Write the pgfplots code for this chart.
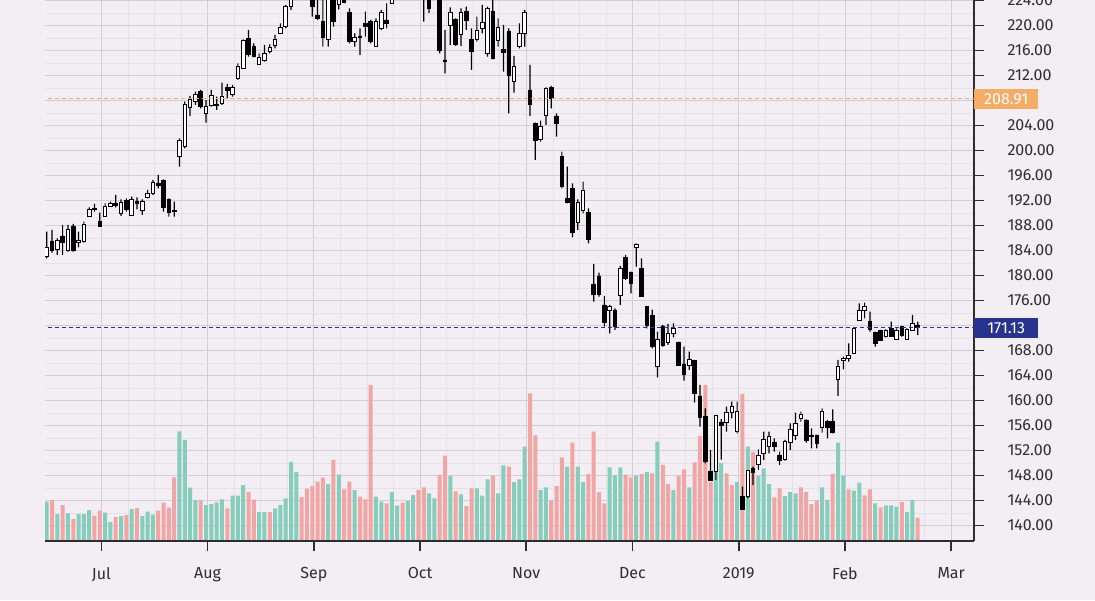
\documentclass[border=0pt]{standalone}
\usepackage{fontspec}
\setmainfont{Fira Sans}
\usepackage{pgfplots}
\usepackage{pgfplotstable}
\pgfplotsset{compat=1.18}

\definecolor{bg}{HTML}{F2EEF3}
\definecolor{gridmaj}{HTML}{D2CED8}
\definecolor{gridmin}{HTML}{E5E1E9}
\definecolor{volup}{HTML}{86CDBB}
\definecolor{voldn}{HTML}{F2A5A5}
\definecolor{tagorange}{HTML}{F5AC66}
\definecolor{tagnavy}{HTML}{27338F}
\definecolor{axcol}{HTML}{2E2E2E}

\pgfplotstableread{
i o h l c v u
0 183.09 186.98 182.72 184.48 39.3 1
1 185.38 187.25 183.62 184.05 41 0
2 184.16 185.92 183.25 185.65 27 1
3 186.29 188.05 183.25 185.22 36 0
4 184.05 188.05 183.78 187.36 27.7 1
5 187.89 188.21 183.78 183.94 22 0
6 185.22 186.98 184.48 185.54 27 1
7 185.38 188.58 185.22 188.21 27 1
8 189.49 190.88 189.38 190.56 31 1
9 190.72 191.41 190.18 190.56 25.3 0
10 188.58 190.02 187.78 187.89 30.3 0
11 189.49 191.52 189.38 191.09 28.3 1
12 191.09 191.78 190.98 191.52 19 1
13 191.52 192.85 190.88 191.20 24 0
14 189.92 192.16 189.49 191.62 25 1
15 191.94 192.32 190.18 190.56 26 0
16 189.65 192.58 189.49 192.16 32 1
17 191.78 192.48 190.56 191.52 33 0
18 190.45 192.16 189.65 191.78 25 1
19 192.48 193.65 192.32 193.12 29.3 1
20 193.12 195.25 192.85 194.82 26.3 1
21 194.72 196.05 193.92 194.45 30.3 0
22 195.14 195.36 190.18 190.88 38.3 0
23 192.16 192.32 189.38 190.02 33.3 0
24 190.34 191.78 189.38 190.24 63.7 0
25 198.98 201.90 197.38 201.65 109.7 1
26 200.58 207.79 200.32 207.41 101 1
27 206.88 208.69 205.49 208.16 53.3 1
28 207.79 209.38 207.25 209.01 41 1
29 209.38 209.65 206.72 206.98 40.3 0
30 205.92 208.05 204.42 207.09 36 1
31 207.25 209.65 206.98 208.85 37 1
32 207.14 208.59 206.45 207.36 38.7 1
33 207.52 210.82 207.25 208.69 41.7 1
34 210.08 210.61 208.32 209.65 32.7 0
35 208.91 210.45 208.59 210.08 45.3 1
36 211.52 213.92 211.25 213.38 45.3 1
37 213.12 217.76 213.01 217.65 56 1
38 217.92 219.25 214.98 215.41 49 0
39 216.58 217.12 214.88 215.09 41.3 0
40 213.76 215.52 213.65 214.88 29 1
41 214.34 216.85 214.18 215.52 29 1
42 215.78 216.96 215.52 216.48 29 0
43 216.85 218.45 216.32 217.81 32.7 1
44 218.72 220.32 218.61 219.68 36 1
45 219.78 223.25 219.52 222.98 42.7 1
46 223.09 226.00 222.45 224.80 79 1
47 225.00 228.00 224.50 227.50 69 1
48 227.50 228.50 225.50 226.00 44 0
49 226.50 227.50 224.60 225.20 52.3 0
50 225.00 226.00 221.38 222.98 55 0
51 221.65 224.50 220.85 221.12 59.3 0
52 220.58 224.30 216.58 218.08 63.3 0
53 217.76 226.00 216.58 225.00 57 1
54 225.50 226.00 219.78 220.58 81 0
55 223.41 226.00 222.56 224.80 66.3 1
56 225.00 226.00 223.50 223.62 51.7 0
57 222.02 222.72 217.12 217.38 59.3 0
58 217.38 218.72 216.58 218.08 51 1
59 218.29 219.52 215.25 218.08 44.3 0
60 220.32 222.18 218.18 219.89 41.7 0
61 220.58 220.85 217.12 217.38 156 0
62 216.69 221.12 216.58 220.58 44.3 1
63 219.52 222.45 219.25 222.02 39.3 1
64 220.85 223.52 219.52 220.32 37.7 0
65 223.52 226.00 223.41 225.00 49 1
66 225.50 228.00 225.00 227.00 35.3 1
67 227.00 228.00 225.00 225.50 38.3 0
68 225.50 227.50 225.00 226.50 40 1
69 226.50 229.00 226.00 228.50 46 1
70 228.50 229.00 225.00 225.50 51 0
71 226.00 226.50 220.60 224.60 53.7 0
72 225.50 226.00 222.00 222.72 47.7 1
73 224.50 226.50 224.20 226.00 42.7 1
74 226.50 227.00 215.50 216.05 66 0
75 214.45 219.25 212.32 214.29 85.3 0
76 220.05 222.88 216.85 222.02 65 1
77 220.96 221.12 216.69 217.01 49.7 0
78 218.61 222.72 216.69 222.02 46.7 1
79 222.18 222.98 219.25 220.85 35 0
80 217.76 219.52 212.85 215.78 52.7 0
81 217.76 221.38 217.38 219.14 52.7 1
82 219.52 223.25 218.72 220.42 45.3 1
83 215.52 222.98 214.98 222.72 61.7 1
84 222.18 224.05 214.56 214.72 65 0
85 217.54 221.12 216.58 219.68 47.7 1
86 216.16 220.05 212.58 215.62 75.7 1
87 218.98 219.52 205.92 212.05 74.3 0
88 210.98 215.09 209.22 213.38 59 1
89 216.58 220.32 216.32 218.72 61.7 1
90 218.72 222.45 216.58 222.02 94.3 1
91 209.65 213.65 205.49 207.41 147.7 0
92 204.32 204.42 198.45 201.55 105.7 0
93 201.76 204.74 201.38 203.78 51 1
94 205.65 210.08 204.05 209.92 53.7 1
95 210.08 210.29 206.72 208.32 40.3 0
96 205.49 205.92 202.18 204.32 55 0
97 198.98 199.78 193.92 194.18 83.7 0
98 192.32 197.38 191.52 191.62 74.3 1
99 193.92 194.72 186.08 186.82 98.3 0
100 188.42 192.16 187.25 191.62 74.3 1
101 190.45 194.98 189.92 193.65 59 1
102 190.02 190.72 185.12 185.76 67 0
103 178.61 181.81 175.78 177.01 109.3 0
104 179.89 180.42 176.58 177.01 49 0
105 175.25 176.69 171.78 172.42 37.7 0
106 174.45 175.25 170.72 174.98 73.7 1
107 174.45 174.72 171.25 171.78 65.7 1
108 176.85 181.49 175.25 181.12 73.7 1
109 182.88 183.25 179.25 179.52 66.3 0
110 180.42 180.58 177.12 178.72 63.7 0
111 184.48 185.12 181.38 185.01 65.7 1
112 181.12 182.72 176.58 176.69 67 0
113 174.98 174.98 171.52 172.05 69 1
114 173.50 174.50 168.30 168.60 67.7 0
115 165.38 170.98 163.68 169.76 99.3 1
116 171.89 172.05 168.58 168.85 76 0
117 169.22 172.21 168.85 170.72 57 0
118 170.72 172.32 170.08 171.52 51 1
119 169.22 169.38 165.49 165.65 65 0
120 165.81 168.58 163.14 164.21 71.7 0
121 165.65 167.78 164.85 166.56 53.7 1
122 166.34 166.45 159.62 161.12 78.7 0
123 160.69 162.45 155.78 157.28 105 0
124 157.38 158.70 149.92 150.18 156 0
125 148.58 152.05 147.25 147.25 59.3 0
126 148.58 157.65 147.25 157.65 82 1
127 156.42 157.00 150.50 156.05 78 1
128 156.42 158.98 154.98 158.02 67.7 0
129 158.02 159.78 157.12 158.98 56 0
130 154.98 159.78 154.72 158.18 59 1
131 144.58 146.18 142.56 142.56 147 0
132 144.69 148.85 144.32 148.85 94.3 1
133 149.12 149.38 146.45 148.42 89 0
134 149.81 152.16 148.85 151.25 65 1
135 151.52 154.98 150.45 153.76 72.7 1
136 152.69 154.98 151.52 154.18 57 1
137 153.22 153.92 151.78 152.58 43.7 0
138 151.25 151.78 149.65 150.34 52.7 0
139 150.56 153.65 150.34 153.38 45 1
140 153.22 156.32 152.05 155.36 49 1
141 154.45 158.02 153.65 156.32 47.7 1
142 157.12 158.18 156.58 157.81 53.7 0
143 156.85 156.96 153.22 153.65 49 0
144 154.45 155.52 152.32 154.18 37 0
145 154.45 154.45 152.32 153.12 40.3 0
146 155.68 158.72 154.82 158.18 53.7 1
147 156.58 156.85 153.92 155.68 41 1
148 156.58 158.56 154.72 154.82 67 0
149 163.36 166.45 160.69 165.49 98.3 1
150 166.34 166.98 164.96 166.72 65 1
151 166.72 169.12 166.18 167.25 51.7 0
152 167.52 171.68 167.52 171.52 50.3 1
153 172.85 175.52 172.74 174.34 58.3 1
154 174.45 175.62 173.12 174.98 45.7 0
155 172.58 174.18 170.98 171.36 51.7 0
156 170.82 170.98 168.58 169.12 37.7 1
157 171.14 171.25 169.54 169.65 33.7 0
158 170.18 171.36 170.08 171.14 35.7 1
159 171.52 172.58 170.18 170.29 35.7 1
160 169.76 171.52 169.65 171.25 34.3 1
161 171.78 171.89 170.18 170.45 39 0
162 169.76 171.52 169.65 171.36 29 1
163 171.25 173.65 171.14 172.32 41 1
164 172.05 172.58 170.45 171.60 23.3 0
}\data

\pgfplotsset{
  common/.style={at={(45pt,59pt)}, anchor=south west, scale only axis,
    width=929pt, height=541pt, xmin=-0.32, xmax=174.6},
  price/.style={ymin=137.49, ymax=224.05},
}

\begin{document}
\begin{tikzpicture}
\fill[bg] (0pt,0pt) rectangle (1095pt,600pt);

% grid
\begin{axis}[common, price,
  xtick={10.3,30.3,50.3,70.3,90.3,110.3,130.3,150.3,170.3},
  minor x tick num=3,
  ytick={140,144,...,224}, minor y tick num=1,
  xticklabels={}, yticklabels={},
  axis line style={draw=none}, tick style={draw=none},
  grid=both,
  major grid style={gridmaj, line width=0.8pt},
  minor grid style={gridmin, line width=0.6pt}]
\addplot[draw=none] coordinates {(0,150)};
\end{axis}

% volume
\begin{axis}[common, ymin=0, ymax=541, hide axis, ybar stacked, bar width=4pt]
\addplot[fill=volup, draw=none] table[x=i, y expr={\thisrow{v}*\thisrow{u}}] {\data};
\addplot[fill=voldn, draw=none] table[x=i, y expr={\thisrow{v}*(1-\thisrow{u})}] {\data};
\end{axis}

% wicks
\begin{axis}[common, price, hide axis, ybar stacked, bar width=1.2pt]
\addplot[draw=none, fill=none] table[x=i, y=l] {\data};
\addplot[draw=none, fill=black] table[x=i, y expr={\thisrow{h}-\thisrow{l}}] {\data};
\end{axis}

% bodies
\begin{axis}[common, price, hide axis, ybar stacked, bar width=3.6pt]
\addplot[draw=none, fill=none] table[x=i, y expr={min(\thisrow{o},\thisrow{c})}] {\data};
\addplot[draw=black, fill=white, line width=0.9pt] table[x=i, y expr={max(\thisrow{c}-\thisrow{o},0)}] {\data};
\addplot[draw=black, fill=black, line width=0.9pt] table[x=i, y expr={max(\thisrow{o}-\thisrow{c},0)}] {\data};
\end{axis}

% axes, ticks, reference lines and tags
\begin{axis}[common, price,
  clip mode=individual,
  axis x line*=bottom, axis y line*=right,
  axis line style={axcol, line width=1.6pt},
  xtick={10.3,30.3,50.3,70.3,90.3,110.3,130.3,150.3,170.3},
  xticklabels={Jul,Aug,Sep,Oct,Nov,Dec,2019,Feb,Mar},
  ytick={140,144,148,152,156,160,164,168,176,180,184,188,192,196,200,204,212,216,220,224},
  tick align=outside, major tick length=10pt,
  tick style={axcol, line width=1.6pt},
  ticklabel style={font=\fontsize{16}{18}\selectfont, text=axcol},
  yticklabel style={/pgf/number format/.cd, fixed, fixed zerofill, precision=2, 1000 sep={}, assume math mode=true, /tikz/.cd, xshift=20pt},
  xticklabel style={yshift=-13pt},
]
\addplot[tagorange, line width=1pt, dash pattern=on 4pt off 3pt] coordinates {(-1,208.25) (175,208.25)};
\addplot[tagnavy, line width=1pt, dash pattern=on 4pt off 3pt] coordinates {(-1,171.6) (175,171.6)};
\node[fill=tagorange, text=white, anchor=west, minimum width=64pt, minimum height=20pt, inner sep=0pt, font=\fontsize{16}{18}\selectfont] at (axis cs:174.6,208.25) {208.91};
\node[fill=tagnavy, text=white, anchor=west, minimum width=64pt, minimum height=20pt, inner sep=0pt, font=\fontsize{16}{18}\selectfont] at (axis cs:174.6,171.6) {171.13};
\end{axis}

\pgfresetboundingbox
\useasboundingbox (0pt,0pt) rectangle (1095pt,600pt);
\end{tikzpicture}
\end{document}
